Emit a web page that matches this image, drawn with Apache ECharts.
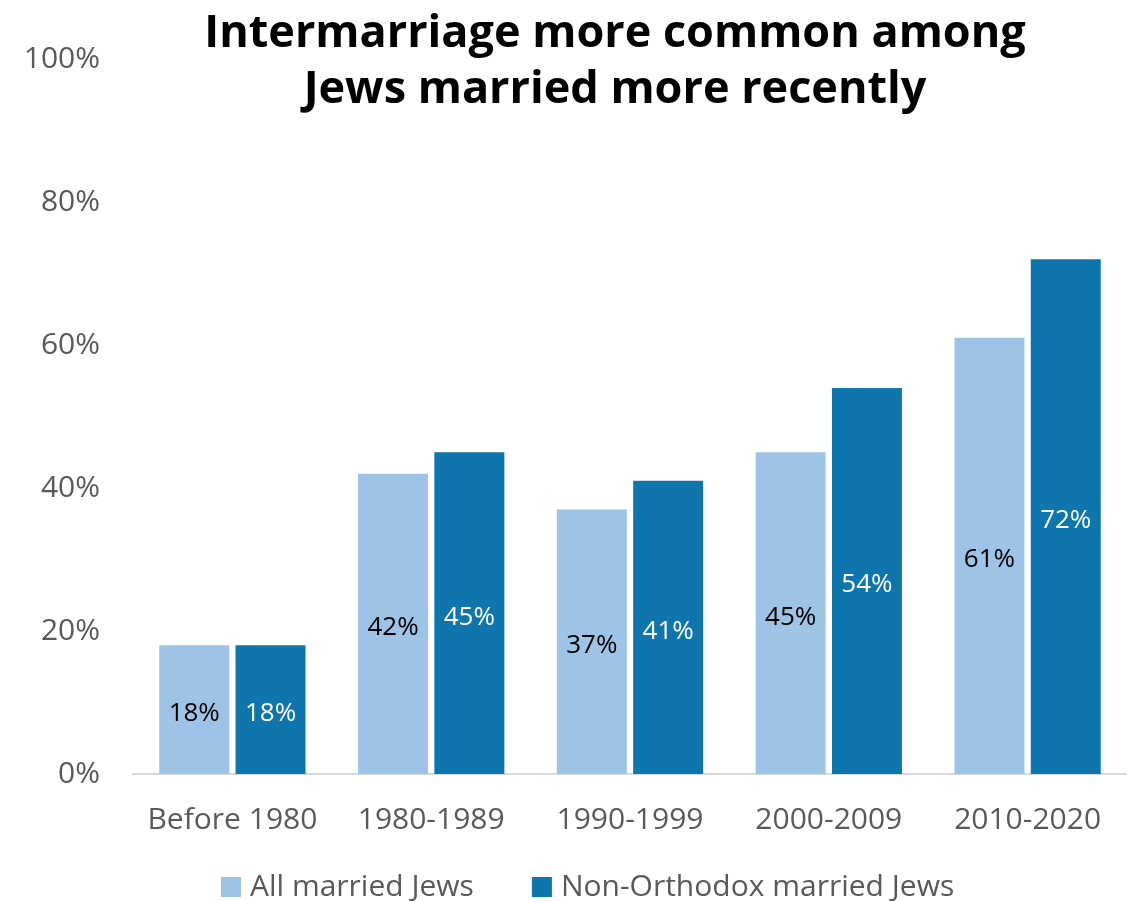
<!DOCTYPE html>
<html><head><meta charset="utf-8">
<script src="https://cdn.jsdelivr.net/npm/echarts@6/dist/echarts.min.js"></script>
<style>html,body{margin:0;padding:0;background:#fff}#c{width:1127px;height:901px}</style>
</head><body><div id="c"></div>
<script>
var categories = ['Before 1980','1980-1989','1990-1999','2000-2009','2010-2020'];
var allMarried = [18, 42, 37, 45, 61];
var nonOrthodox = [18, 45, 41, 54, 72];
var seriesNames = ['All married Jews','Non-Orthodox married Jews'];
var titleText = 'Intermarriage more common among\nJews married more recently';

var FONT = '"Open Sans", "Noto Sans", sans-serif';
var chart = echarts.init(document.getElementById('c'));
chart.setOption({
  animation: false,
  title: {
    text: titleText, left: 610, top: 1, textAlign: 'center',
    textStyle: {fontFamily: FONT, fontWeight: 'bold', fontSize: 45, lineHeight: 56, color: '#000'}
  },
  legend: {
    top: 867, left: 216, itemWidth: 20, itemHeight: 20, itemGap: 58,
    icon: 'rect',
    textStyle: {fontFamily: FONT, fontSize: 30, color: '#595959', padding: [0,0,0,4]},
    data: seriesNames
  },
  grid: {left: 133, right: 0, top: 59, bottom: 127, containLabel: false},
  xAxis: {
    type: 'category', data: categories,
    axisLine: {lineStyle: {color: '#d9d9d9', width: 2}},
    axisTick: {show: false},
    axisLabel: {interval: 0, hideOverlap: false, fontFamily: FONT, fontSize: 30, color: '#595959', margin: 31}
  },
  yAxis: {
    type: 'value', min: 0, max: 100, interval: 20,
    splitLine: {show: false},
    axisLine: {show: false}, axisTick: {show: false},
    axisLabel: {fontFamily: FONT, fontSize: 30, color: '#595959', margin: 33, formatter: '{value}%'}
  },
  series: [
    {
      name: seriesNames[0], type: 'bar', data: allMarried,
      barWidth: 70, barGap: '9%',
      itemStyle: {color: '#9dc3e6'},
      label: {show: true, position: 'inside', offset: [0, 4], formatter: '{c}%', fontFamily: FONT, fontSize: 26, color: '#000'}
    },
    {
      name: seriesNames[1], type: 'bar', data: nonOrthodox,
      barWidth: 70,
      itemStyle: {color: '#0f76ad'},
      label: {show: true, position: 'inside', offset: [0, 4], formatter: '{c}%', fontFamily: FONT, fontSize: 26, color: '#fff'}
    }
  ]
});
</script></body></html>
